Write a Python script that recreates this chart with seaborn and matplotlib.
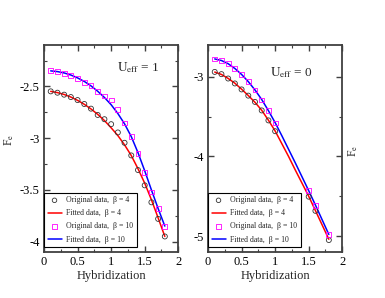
import numpy as np
import pandas as pd
import matplotlib
matplotlib.use("Agg")
import matplotlib.pyplot as plt
from matplotlib.ticker import MultipleLocator, FormatStrFormatter
import seaborn as sns

# ---------------- data ----------------
x_left = [0.1, 0.2, 0.3, 0.4, 0.5, 0.6, 0.7, 0.8, 0.9, 1.0, 1.1, 1.2, 1.3, 1.4, 1.5, 1.6, 1.7, 1.8]
left_orig_b4 = [-2.548, -2.561, -2.58, -2.603, -2.632, -2.67, -2.715, -2.776, -2.817, -2.865,
                -2.945, -3.045, -3.167, -3.308, -3.456, -3.62, -3.78, -3.95]
left_orig_b10 = [-2.349, -2.359, -2.372, -2.394, -2.426, -2.459, -2.494, -2.548, -2.593, -2.632,
                 -2.724, -2.853, -2.984, -3.147, -3.333, -3.52, -3.68, -3.85]
left_fit_b4 = [-2.548, -2.56, -2.578, -2.603, -2.635, -2.673, -2.718, -2.77, -2.83, -2.9,
               -2.975, -3.065, -3.168, -3.295, -3.435, -3.595, -3.77, -3.95]
left_fit_b10 = [-2.35, -2.357, -2.37, -2.39, -2.418, -2.452, -2.495, -2.547, -2.607, -2.677,
                -2.762, -2.862, -2.985, -3.14, -3.315, -3.5, -3.68, -3.85]

x_right_orig = [0.1, 0.2, 0.3, 0.4, 0.5, 0.6, 0.7, 0.8, 0.9, 1.0, 1.5, 1.6, 1.8]
right_orig_b4 = [-2.938, -2.966, -3.021, -3.083, -3.158, -3.236, -3.315, -3.422, -3.547, -3.683,
                 -4.505, -4.683, -5.05]
right_orig_b10 = [-2.776, -2.793, -2.83, -2.892, -2.975, -3.058, -3.165, -3.29, -3.426, -3.58,
                  -4.43, -4.617, -4.98]
x_right_fit = [0.1, 0.2, 0.3, 0.4, 0.5, 0.6, 0.7, 0.8, 0.9, 1.0, 1.1, 1.2, 1.3, 1.4, 1.5, 1.6, 1.7, 1.8]
right_fit_b4 = [-2.94, -2.97, -3.02, -3.08, -3.155, -3.235, -3.32, -3.42, -3.545, -3.68,
                -3.84, -4.0, -4.17, -4.335, -4.5, -4.68, -4.86, -5.04]
right_fit_b10 = [-2.775, -2.795, -2.835, -2.895, -2.97, -3.06, -3.165, -3.285, -3.425, -3.575,
                 -3.74, -3.91, -4.08, -4.255, -4.43, -4.61, -4.795, -4.98]

panel_titles = [r"$\mathrm{U_{eff}}$ = 1", r"$\mathrm{U_{eff}}$ = 0"]
legend_labels = ["Original data,  \u03b2 = 4", "Fitted data,  \u03b2 = 4",
                 "Original data,  \u03b2 = 10", "Fitted data,  \u03b2 = 10"]
xlabel = "Hybridization"
ylabel = r"F$_{\rm e}$"

# ---------------- style ----------------
sns.set_style("ticks")
plt.rcParams["font.family"] = ["Liberation Serif", "DejaVu Serif"]
plt.rcParams["mathtext.fontset"] = "stix"
plt.rcParams["axes.edgecolor"] = "0.25"
plt.rcParams["axes.linewidth"] = 1.3

fig = plt.figure(figsize=(3.85, 2.98), dpi=100)
axL = fig.add_axes([0.1143, 0.1544, 0.3487, 0.6946])
axR = fig.add_axes([0.5403, 0.1544, 0.3487, 0.6946])

def draw(ax, xo, ob4, ob10, xf, fb4, fb10):
    d_ob4 = pd.DataFrame({"x": xo, "y": ob4})
    d_ob10 = pd.DataFrame({"x": xo, "y": ob10})
    d_fb4 = pd.DataFrame({"x": xf, "y": fb4})
    d_fb10 = pd.DataFrame({"x": xf, "y": fb10})
    sns.scatterplot(data=d_ob4, x="x", y="y", ax=ax, marker="o", s=13,
                    facecolors="none", edgecolor="0.2", linewidth=0.6,
                    label=legend_labels[0], zorder=3)
    sns.lineplot(data=d_fb4, x="x", y="y", ax=ax, color="#ff0000", linewidth=1.1,
                 label=legend_labels[1], zorder=2)
    sns.scatterplot(data=d_ob10, x="x", y="y", ax=ax, marker="s", s=12,
                    facecolors="none", edgecolor="#ff00ff", linewidth=0.6,
                    label=legend_labels[2], zorder=3)
    sns.lineplot(data=d_fb10, x="x", y="y", ax=ax, color="#0000ff", linewidth=1.1,
                 label=legend_labels[3], zorder=2)

draw(axL, x_left, left_orig_b4, left_orig_b10, x_left, left_fit_b4, left_fit_b10)
draw(axR, x_right_orig, right_orig_b4, right_orig_b10, x_right_fit, right_fit_b4, right_fit_b10)

axL.set_xlim(0, 2); axL.set_ylim(-4.1, -2.1)
axR.set_xlim(0, 2); axR.set_ylim(-5.2, -2.6)

for ax in (axL, axR):
    ax.xaxis.set_major_locator(MultipleLocator(0.5))
    ax.xaxis.set_minor_locator(MultipleLocator(0.25))
    ax.xaxis.set_major_formatter(FormatStrFormatter("%g"))
    ax.yaxis.set_major_formatter(FormatStrFormatter("%g"))
    ax.tick_params(which="both", direction="in", top=True, right=True,
                   labelsize=9, colors="0.25", labelcolor="black", pad=3)
    ax.tick_params(which="major", length=4.5, width=1.0)
    ax.tick_params(which="minor", length=2.5, width=0.8)
    ax.set_xlabel(xlabel, fontsize=9, labelpad=1)
    ax.set_ylabel("")
    leg = ax.legend(loc="lower left", bbox_to_anchor=(0, 0.024), borderaxespad=0,
                    fontsize=5.6, frameon=True, fancybox=False, framealpha=1,
                    edgecolor="black", handlelength=1.8, labelspacing=0.65,
                    borderpad=0.45, handletextpad=0.6, markerscale=0.9)
    leg.get_frame().set_linewidth(0.8)

axL.yaxis.set_major_locator(MultipleLocator(0.5))
axL.yaxis.set_minor_locator(MultipleLocator(0.25))
axR.yaxis.set_major_locator(MultipleLocator(1.0))
axR.yaxis.set_minor_locator(MultipleLocator(0.5))

axL.set_ylabel(ylabel, fontsize=8.5)
axL.yaxis.set_label_coords(-0.205, 0.54)
axR.yaxis.set_label_position("right")
axR.set_ylabel(ylabel, fontsize=8.5, rotation=90)
axR.yaxis.set_label_coords(1.03, 0.49)

axL.text(0.70, 0.89, panel_titles[0], transform=axL.transAxes, fontsize=9.5,
         ha="center", va="center")
axR.text(0.62, 0.865, panel_titles[1], transform=axR.transAxes, fontsize=9.5,
         ha="center", va="center")

fig.savefig("out.png", dpi=100)
